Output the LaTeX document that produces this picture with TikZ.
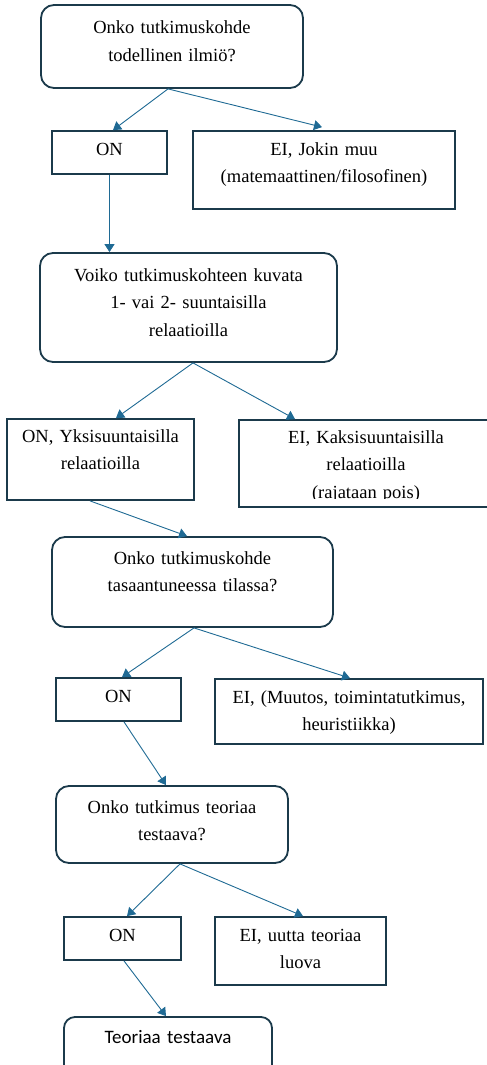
\documentclass[tikz,border=0pt]{standalone}
\usepackage{fontspec}
\setmainfont{Liberation Serif}
\newfontfamily\loppufont{Carlito}
\usepackage{xcolor}
\usepackage{tikz}
\usetikzlibrary{arrows.meta, positioning, calc}

\definecolor{reunavari}{HTML}{1B3A4B}
\definecolor{nuolivari}{HTML}{1F6A94}

\begin{document}
\begin{tikzpicture}[x=1pt, y=-1pt,
  kysymys/.style={draw=reunavari, line width=1.8pt, rounded corners=13pt, inner sep=0pt},
  vastaus/.style={draw=reunavari, line width=1.8pt, inner sep=0pt},
  teksti/.style={anchor=base, text width=320pt, align=center, inner sep=0pt,
    font=\fontsize{18.5}{27.5}\selectfont},
  nuoli/.style={draw=nuolivari, line width=0.9pt, -{Triangle[length=8pt, width=10pt]}}]

  \useasboundingbox (0,0) rectangle (487,1065);

  % --- Todellinen ilmio ---
  \node[kysymys, minimum width=262pt, minimum height=83pt] (kys1) at (172,46.5) {};
  \node[teksti] (kys1t) at (172,34) {Onko tutkimuskohde\\todellinen ilmiö?};

  \node[vastaus, minimum width=115pt, minimum height=43pt] (on1) at (109.5,152.5) {};
  \node[teksti] (on1t) at (109.5,155) {ON};

  \node[vastaus, minimum width=262pt, minimum height=78pt] (ei1) at (324,170) {};
  \node[teksti] (ei1t) at (324,155) {EI, Jokin muu\\(matemaattinen/filosofinen)};

  % --- Relaatiot ---
  \node[kysymys, minimum width=297pt, minimum height=109pt] (kys2) at (188.5,307.5) {};
  \node[teksti] (kys2t) at (188.5,281) {Voiko tutkimuskohteen kuvata\\1- vai 2- suuntaisilla\\relaatioilla};

  \node[vastaus, minimum width=187pt, minimum height=81pt] (on2) at (100.5,459.5) {};
  \node[teksti] (on2t) at (100.5,442) {ON, Yksisuuntaisilla\\relaatioilla};

  \node[vastaus, minimum width=254pt, minimum height=87pt] (ei2) at (366,463.5) {};
  \begin{scope}
    \clip (ei2.north west) rectangle ([yshift=9pt]ei2.south east);
    \node[teksti] (ei2t) at (366,443) {EI, Kaksisuuntaisilla\\relaatioilla\\(rajataan pois)};
  \end{scope}

  % --- Tasaantunut tila ---
  \node[kysymys, minimum width=281pt, minimum height=90pt] (kys3) at (192.5,582) {};
  \node[teksti] (kys3t) at (192.5,564) {Onko tutkimuskohde\\tasaantuneessa tilassa?};

  \node[vastaus, minimum width=125pt, minimum height=43pt] (on3) at (118.5,699.5) {};
  \node[teksti] (on3t) at (118.5,702) {ON};

  \node[vastaus, minimum width=268pt, minimum height=65pt] (ei3) at (349,711.5) {};
  \node[teksti] (ei3t) at (349,703) {EI, (Muutos, toimintatutkimus,\\heuristiikka)};

  % --- Teorian testaus ---
  \node[kysymys, minimum width=232pt, minimum height=77pt] (kys4) at (172,824.5) {};
  \node[teksti] (kys4t) at (172,813) {Onko tutkimus teoriaa\\testaava?};

  \node[vastaus, minimum width=117pt, minimum height=43pt] (on4) at (122.5,938.5) {};
  \node[teksti] (on4t) at (122.5,941) {ON};

  \node[vastaus, minimum width=171pt, minimum height=68pt] (ei4) at (300.5,951) {};
  \node[teksti] (ei4t) at (300.5,941) {EI, uutta teoriaa\\luova};

  \node[kysymys, rounded corners=11pt, minimum width=208pt, minimum height=63pt] (loppu) at (168,1048.5) {};
  \node[teksti, font=\loppufont\fontsize{19}{27}\selectfont] (loppuT) at (168,1043) {Teoriaa testaava};

  % --- Nuolet ---
  \draw[nuoli] ([xshift=-4pt]kys1.south) -- ([xshift=3.5pt]on1.north);
  \draw[nuoli] ([xshift=-4pt]kys1.south) -- ([xshift=-2pt, yshift=3pt]ei1.north);
  \draw[nuoli] (on1.south) -- (on1.south |- kys2.north);

  \draw[nuoli] ([xshift=4.5pt]kys2.south) -- ([xshift=15.5pt]on2.north);
  \draw[nuoli] ([xshift=4.5pt]kys2.south) -- ([xshift=-71pt]ei2.north);
  \draw[nuoli] ([xshift=-10.5pt]on2.south) -- ([xshift=-5.5pt]kys3.north);

  \draw[nuoli] ([xshift=1.5pt]kys3.south) -- ([xshift=3.5pt]on3.north);
  \draw[nuoli] ([xshift=1.5pt]kys3.south) -- ([xshift=1pt]ei3.north);
  \draw[nuoli] ([xshift=5.5pt]on3.south) -- ([xshift=-6pt]kys4.north);

  \draw[nuoli] ([xshift=8pt]kys4.south) -- ([xshift=4.5pt]on4.north);
  \draw[nuoli] ([xshift=8pt]kys4.south) -- ([xshift=2.5pt]ei4.north);
  \draw[nuoli] ([xshift=1.5pt]on4.south) -- ([xshift=-2pt]loppu.north);

\end{tikzpicture}
\end{document}
